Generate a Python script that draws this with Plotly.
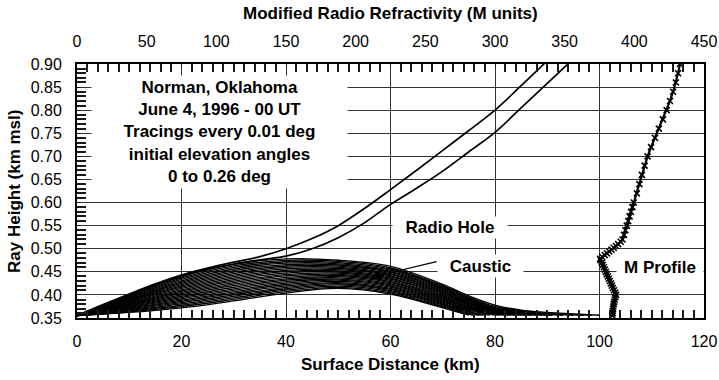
import plotly.graph_objects as go

# ---------------- data ----------------
# trapped rays (0.00 .. 0.24 deg): core part sampled at these distances (km)
ray_core_dist = [0, 10, 20, 30, 40, 50, 60, 70]
ray_core_h = [
    [0.355, 0.362, 0.372, 0.387, 0.404, 0.414, 0.402, 0.372],
    [0.355, 0.3635, 0.3748, 0.3903, 0.4071, 0.4165, 0.4045, 0.3741],
    [0.355, 0.3651, 0.3776, 0.3936, 0.4102, 0.4191, 0.4069, 0.3762],
    [0.355, 0.3666, 0.3804, 0.3969, 0.4133, 0.4216, 0.4094, 0.3783],
    [0.355, 0.3682, 0.3832, 0.4002, 0.4163, 0.4242, 0.4118, 0.3803],
    [0.355, 0.3697, 0.386, 0.4035, 0.4194, 0.4267, 0.4143, 0.3824],
    [0.355, 0.3713, 0.3888, 0.4068, 0.4225, 0.4293, 0.4168, 0.3845],
    [0.355, 0.3728, 0.3915, 0.41, 0.4256, 0.4318, 0.4192, 0.3866],
    [0.355, 0.3743, 0.3943, 0.4133, 0.4287, 0.4343, 0.4217, 0.3887],
    [0.355, 0.3759, 0.3971, 0.4166, 0.4318, 0.4369, 0.4241, 0.3908],
    [0.355, 0.3774, 0.3999, 0.4199, 0.4348, 0.4394, 0.4266, 0.3928],
    [0.355, 0.379, 0.4027, 0.4232, 0.4379, 0.442, 0.429, 0.3949],
    [0.355, 0.3805, 0.4055, 0.4265, 0.441, 0.4445, 0.4315, 0.397],
    [0.355, 0.382, 0.4083, 0.4298, 0.4441, 0.447, 0.434, 0.3991],
    [0.355, 0.3836, 0.4111, 0.4331, 0.4472, 0.4496, 0.4364, 0.4012],
    [0.355, 0.3851, 0.4139, 0.4364, 0.4503, 0.4521, 0.4389, 0.4033],
    [0.355, 0.3867, 0.4167, 0.4397, 0.4533, 0.4547, 0.4413, 0.4053],
    [0.355, 0.3882, 0.4195, 0.443, 0.4564, 0.4572, 0.4438, 0.4074],
    [0.355, 0.3898, 0.4223, 0.4463, 0.4595, 0.4598, 0.4463, 0.4095],
    [0.355, 0.3913, 0.425, 0.4495, 0.4626, 0.4623, 0.4487, 0.4116],
    [0.355, 0.3928, 0.4278, 0.4528, 0.4657, 0.4648, 0.4512, 0.4137],
    [0.355, 0.3944, 0.4306, 0.4561, 0.4688, 0.4674, 0.4536, 0.4158],
    [0.355, 0.3959, 0.4334, 0.4594, 0.4718, 0.4699, 0.4561, 0.4178],
    [0.355, 0.3975, 0.4362, 0.4627, 0.4749, 0.4725, 0.4585, 0.4199],
    [0.355, 0.399, 0.439, 0.466, 0.478, 0.475, 0.462, 0.423],
]
# descending tail of each trapped ray down to the ground
ray_tail_dist = [
    [75], [75, 76], [75, 77], [75, 77.5], [75, 78], [75, 79], [75, 80], [75, 80.5],
    [75, 80, 81], [75, 80, 82], [75, 80, 82.5], [75, 80, 83], [75, 80, 84], [75, 80, 85],
    [75, 80, 85, 86], [75, 80, 85, 87], [75, 80, 85, 88], [75, 80, 85, 89], [75, 80, 85, 90],
    [75, 80, 85, 90, 91], [75, 80, 85, 90, 93], [75, 80, 85, 90, 95],
    [75, 80, 85, 90, 95, 97], [75, 80, 85, 90, 95, 98.5], [75, 80, 85, 90, 95, 100],
]
ray_tail_h = [
    [0.356], [0.3577, 0.356], [0.3594, 0.356], [0.3611, 0.356], [0.3628, 0.356],
    [0.3645, 0.356], [0.3663, 0.356], [0.368, 0.356],
    [0.3697, 0.358, 0.356], [0.3714, 0.359, 0.356], [0.3731, 0.360, 0.356],
    [0.3748, 0.361, 0.356], [0.3765, 0.362, 0.356], [0.3782, 0.363, 0.356],
    [0.3799, 0.364, 0.357, 0.356], [0.3816, 0.365, 0.358, 0.356],
    [0.3834, 0.366, 0.359, 0.356], [0.3851, 0.367, 0.360, 0.356],
    [0.3868, 0.368, 0.361, 0.356], [0.3885, 0.369, 0.362, 0.3565, 0.356],
    [0.3902, 0.370, 0.363, 0.358, 0.356], [0.3919, 0.372, 0.364, 0.359, 0.356],
    [0.3936, 0.373, 0.365, 0.360, 0.357, 0.356],
    [0.3953, 0.375, 0.366, 0.361, 0.358, 0.356],
    [0.398, 0.378, 0.367, 0.362, 0.359, 0.356],
]

# escaping rays (0.25 and 0.26 deg)
esc_low_dist = [0, 5, 10, 15, 20, 25, 30, 35, 40, 45, 50, 55, 60, 65, 70, 75, 80, 85, 90, 95]
esc_low_h = [0.355, 0.378, 0.400, 0.422, 0.441, 0.456, 0.467, 0.476, 0.484, 0.500,
             0.524, 0.556, 0.596, 0.631, 0.668, 0.710, 0.752, 0.805, 0.858, 0.911]
esc_up_dist = [0, 5, 10, 15, 20, 25, 30, 35, 40, 45, 50, 55, 60, 65, 70, 75, 80, 85, 90]
esc_up_h = [0.355, 0.379, 0.402, 0.424, 0.443, 0.458, 0.471, 0.483, 0.500, 0.522,
            0.550, 0.587, 0.628, 0.670, 0.713, 0.756, 0.800, 0.853, 0.907]

# M profile (top axis)
m_height = [0.355, 0.36, 0.365, 0.37, 0.375, 0.38, 0.385, 0.39, 0.395, 0.40,
            0.405, 0.41, 0.415, 0.42, 0.425, 0.43, 0.435, 0.44, 0.445, 0.45,
            0.455, 0.46, 0.465, 0.47, 0.475, 0.478, 0.482, 0.486, 0.49, 0.494,
            0.498, 0.502, 0.506, 0.51, 0.515, 0.52, 0.53, 0.54, 0.55, 0.56,
            0.57, 0.58, 0.59, 0.60, 0.62, 0.64, 0.66, 0.68, 0.70, 0.72,
            0.74, 0.76, 0.78, 0.80, 0.82, 0.84, 0.86, 0.88, 0.90]
m_units = [384.3, 384.4, 384.5, 384.7, 384.9, 385.2, 385.5, 385.9, 386.4, 386.9,
           386.2, 385.4, 384.6, 383.9, 383.2, 382.4, 381.7, 381.0, 380.2, 379.5,
           378.8, 378.1, 377.3, 376.6, 375.8, 375.4, 377.0, 378.8, 380.4, 382.0,
           383.6, 385.2, 386.8, 388.4, 390.2, 391.5, 392.6, 393.6, 394.6, 395.6,
           396.6, 397.6, 398.6, 399.6, 401.8, 403.6, 405.4, 407.4, 409.5, 412.0,
           414.8, 417.6, 420.5, 423.2, 425.6, 427.8, 429.8, 431.4, 432.8]

FONT = "Liberation Sans, Arial, Helvetica, sans-serif"

fig = go.Figure()

for k in range(len(ray_core_h)):
    fig.add_trace(go.Scatter(
        x=ray_core_dist + ray_tail_dist[k], y=ray_core_h[k] + ray_tail_h[k],
        mode="lines", line=dict(color="black", width=1.3, shape="spline", smoothing=1.0),
        showlegend=False, hoverinfo="skip"))

for xs, ys in [(esc_low_dist, esc_low_h), (esc_up_dist, esc_up_h)]:
    fig.add_trace(go.Scatter(
        x=xs, y=ys, mode="lines",
        line=dict(color="black", width=1.7, shape="spline", smoothing=1.0),
        showlegend=False, hoverinfo="skip"))

fig.add_trace(go.Scatter(
    x=m_units, y=m_height, xaxis="x2", yaxis="y", mode="lines+markers",
    line=dict(color="black", width=2.2),
    marker=dict(symbol="x-thin", size=6, line=dict(color="black", width=1.6)),
    showlegend=False, hoverinfo="skip"))

TICKC = "#1a1a1a"
fig.update_layout(
    width=719, height=380, autosize=False,
    margin=dict(l=77, r=15, t=64, b=62, autoexpand=False),
    paper_bgcolor="white", plot_bgcolor="white",
    font=dict(family=FONT, size=16, color="black"),
    xaxis=dict(
        range=[0, 120], tickmode="linear", tick0=0, dtick=20,
        showgrid=True, gridcolor="#333", gridwidth=1, zeroline=False,
        showline=True, linecolor="black", linewidth=2, mirror="allticks",
        ticks="inside", ticklen=4, tickwidth=1, tickcolor=TICKC,
        minor=dict(tickmode="linear", tick0=0, dtick=2, ticks="inside", ticklen=8,
                   tickwidth=2, tickcolor=TICKC, showgrid=False),
        tickfont=dict(size=16), ticklabelstandoff=8,
    ),
    xaxis2=dict(
        range=[0, 450], overlaying="x", side="top", anchor="y",
        tickmode="linear", tick0=0, dtick=50,
        showgrid=False, zeroline=False, showline=False, ticks="",
        tickfont=dict(size=16), ticklabelstandoff=13,
    ),
    yaxis=dict(
        range=[0.35, 0.90], tickmode="linear", tick0=0.35, dtick=0.05, tickformat=".2f",
        showgrid=True, gridcolor="#333", gridwidth=1, zeroline=False,
        showline=True, linecolor="black", linewidth=2, mirror=True,
        ticks="inside", ticklen=4, tickwidth=1, tickcolor=TICKC,
        minor=dict(tickmode="linear", tick0=0.35, dtick=0.01, ticks="inside", ticklen=9,
                   tickwidth=2, tickcolor=TICKC, showgrid=False),
        tickfont=dict(size=16), ticklabelstandoff=10,
    ),
)

bold = dict(family=FONT, size=17, color="black")
annotations = [
    dict(text="<b>Norman, Oklahoma<br>June 4, 1996 - 00 UT<br>Tracings every 0.01 deg<br>"
              "initial elevation angles<br>0 to 0.26 deg</b>",
         x=27.3, y=0.7528, xref="x", yref="y", showarrow=False, font=bold,
         bgcolor="white", width=255, height=112, borderpad=0, align="center"),
    dict(text="<b>Radio Hole</b>", x=71.4, y=0.546, xref="x", yref="y", showarrow=False,
         font=bold, bgcolor="white", width=114, height=21, borderpad=0),
    dict(text="<b>Caustic</b>", x=77.2, y=0.4626, xref="x", yref="y", showarrow=False,
         font=bold, bgcolor="white", width=85, height=22, borderpad=0),
    dict(text="<b>M Profile</b>", x=111.6, y=0.460, xref="x", yref="y", showarrow=False,
         font=bold, bgcolor="white", width=86, height=22, borderpad=0),
    dict(text="", x=56.2, y=0.438, xref="x", yref="y", ax=69.1, ay=0.473,
         axref="x", ayref="y", showarrow=True, arrowhead=2, arrowsize=1.7,
         arrowwidth=1.2, arrowcolor="black"),
    dict(text="<b>Modified Radio Refractivity (M units)</b>", x=0.5, y=1.197,
         xref="paper", yref="paper", showarrow=False, font=bold, yanchor="middle"),
    dict(text="<b>Surface Distance (km)</b>", x=0.5, y=-0.183,
         xref="paper", yref="paper", showarrow=False, font=bold, yanchor="middle"),
    dict(text="<b>Ray Height (km msl)</b>", x=-0.1005, y=0.5, textangle=-90,
         xref="paper", yref="paper", showarrow=False, font=bold,
         xanchor="center", yanchor="middle"),
]
fig.update_layout(annotations=annotations)

fig.write_html(
    "out.html", config={"displayModeBar": False},
    post_script="document.body.style.margin='0px';document.body.style.padding='0px';"
                "document.body.style.overflow='hidden';")
